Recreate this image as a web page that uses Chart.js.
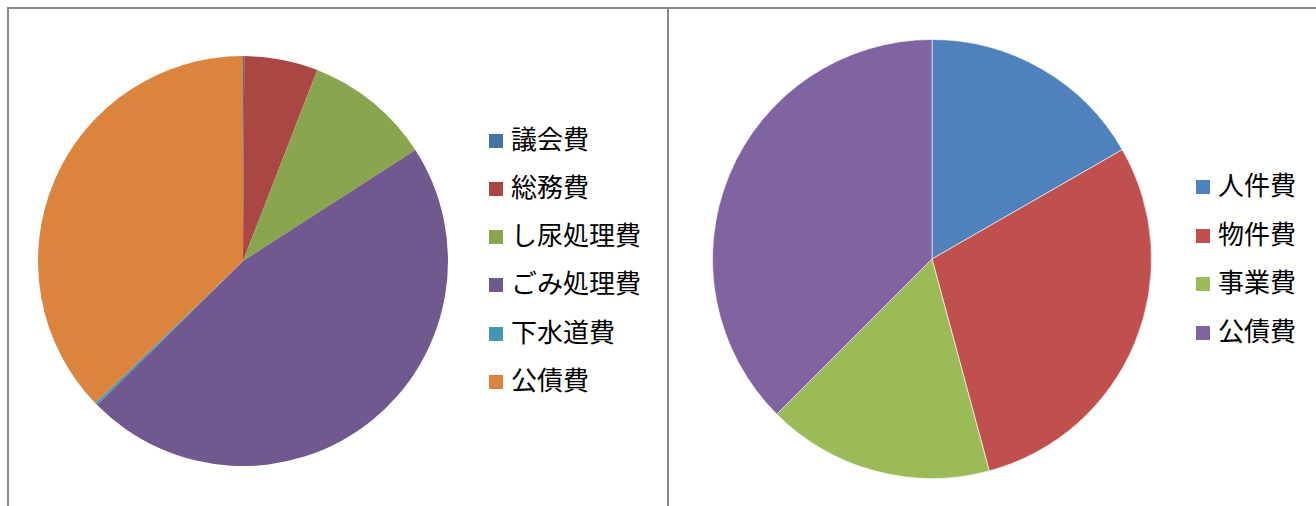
<!DOCTYPE html>
<html>
<head>
<meta charset="utf-8">
<script src="https://cdn.jsdelivr.net/npm/chart.js@4/dist/chart.umd.min.js"></script>
<style>
  html, body { margin:0; padding:0; background:#fff; width:1316px; height:506px; overflow:hidden; }
  .frame { position:absolute; background:#878787; }
  .cv { position:absolute; }
  .lg { position:absolute; font-family:"Noto Sans CJK JP", sans-serif; font-size:26px; color:#000; white-space:nowrap; line-height:30px; height:30px; }
  .lg .sw { position:absolute; left:0; top:8px; width:14px; height:14px; }
  .lg .tx { position:absolute; left:22px; top:-3px; }
</style>
</head>
<body>
<div class="frame" style="left:7px;top:7px;width:1309px;height:2px;"></div>
<div class="frame" style="left:7px;top:7px;width:2px;height:499px;"></div>
<div class="frame" style="left:667px;top:7px;width:2px;height:499px;"></div>

<canvas id="c1" class="cv" width="410" height="410" style="left:38px;top:56px;"></canvas>
<canvas id="c2" class="cv" width="440" height="440" style="left:712px;top:39px;"></canvas>

<script>
const leftLabels = ['議会費','総務費','し尿処理費','ごみ処理費','下水道費','公債費'];
const leftValues = [0.1, 5.8, 10.0, 46.7, 0.2, 37.2];
const leftColors = ['#4572A7','#AA4643','#89A54E','#71588F','#4198AF','#DB843D'];

const rightLabels = ['人件費','物件費','事業費','公債費'];
const rightValues = [16.7, 29.1, 16.7, 37.5];
const rightColors = ['#4F81BD','#C0504D','#9BBB59','#8064A2'];

function makePie(id, labels, values, colors, bw, bc) {
  new Chart(document.getElementById(id), {
    type: 'pie',
    data: { labels: labels, datasets: [{ data: values, backgroundColor: colors, borderWidth: bw, borderColor: bc }] },
    options: {
      responsive: false,
      devicePixelRatio: 1,
      animation: false,
      layout: { padding: 0 },
      plugins: { legend: { display: false }, tooltip: { enabled: false } }
    }
  });
}
makePie('c1', leftLabels, leftValues, leftColors, 0, '#fff');
makePie('c2', rightLabels, rightValues, rightColors, 1, 'rgba(255,255,255,0.6)');

function makeLegend(labels, colors, x, y0, step) {
  labels.forEach((t, i) => {
    const d = document.createElement('div');
    d.className = 'lg';
    d.style.left = x + 'px';
    d.style.top = (y0 + i * step - 15) + 'px';
    const s = document.createElement('span');
    s.className = 'sw';
    s.style.background = colors[i];
    const tx = document.createElement('span');
    tx.className = 'tx';
    tx.textContent = t;
    d.appendChild(s); d.appendChild(tx);
    document.body.appendChild(d);
  });
}
makeLegend(leftLabels, leftColors, 489, 140.5, 48.3);
makeLegend(rightLabels, rightColors, 1196, 187, 48.5);
</script>
</body>
</html>
